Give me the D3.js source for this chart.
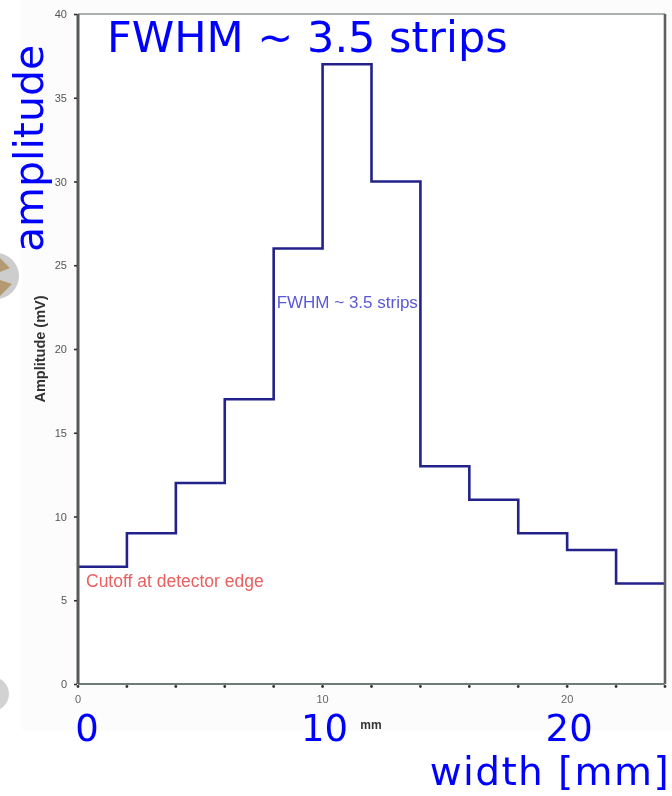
<!DOCTYPE html>
<html>
<head>
<meta charset="utf-8">
<script src="https://cdn.jsdelivr.net/npm/d3@7/dist/d3.min.js"></script>
<style>
  html, body { margin: 0; padding: 0; background: #ffffff; }
  svg { display: block; }
</style>
</head>
<body>
<script>
// Strip edges (mm) and pulse amplitude (mV) read per 2 mm strip
const stripStart = [0, 2, 4, 6, 8, 10, 12, 14, 16, 18, 20, 22];
const amplitude  = [7, 9, 12, 17, 26, 37, 30, 13, 11, 9, 8, 6];
const xEnd = 24;

const yTicks = [0, 5, 10, 15, 20, 25, 30, 35, 40];
const xTickLabels = [0, 10, 20];
const xMinorTicks = d3.range(0, 25, 2);
const bigXLabels = ["0", "10", "20"];
const bigXValues = [0, 10, 20];

const W = 672, H = 796;
const svg = d3.select("body").append("svg").attr("width", W).attr("height", H);

const defs = svg.append("defs");
defs.append("filter").attr("id", "soft")
  .append("feGaussianBlur").attr("stdDeviation", 0.55);

const x = d3.scaleLinear().domain([0, xEnd]).range([78, 665]);
const y = d3.scaleLinear().domain([0, 40]).range([684, 14]);

// faint slide panel behind the plot
svg.append("rect").attr("x", 22).attr("y", 0).attr("width", W - 22).attr("height", 730)
  .attr("fill", "#fcfcfc");
svg.append("rect").attr("x", x(0)).attr("y", y(40)).attr("width", x(xEnd) - x(0)).attr("height", y(0) - y(40))
  .attr("fill", "#ffffff");

// decorative slide buttons at the left edge
const btn = svg.append("g");
btn.append("circle").attr("cx", -4).attr("cy", 276).attr("r", 23).attr("fill", "#cdcdcd");
btn.append("path").attr("d", "M0,258 L10,268 L0,272 Z M0,280 L12,284 L0,296 Z")
  .attr("fill", "#b49a72");
btn.append("circle").attr("cx", -8).attr("cy", 694).attr("r", 17).attr("fill", "#d2d2d2");

const plot = svg.append("g").attr("filter", "url(#soft)");

// step trace
const pts = stripStart.map((s, i) => [s, amplitude[i]]);
pts.push([xEnd, amplitude[amplitude.length - 1]]);
plot.append("path")
  .datum(pts)
  .attr("fill", "none")
  .attr("stroke", "#23238a")
  .attr("stroke-width", 2.6)
  .attr("d", d3.line().x(d => x(d[0])).y(d => y(d[1])).curve(d3.curveStepAfter));

// frame
plot.append("line").attr("x1", x(0)).attr("x2", x(xEnd)).attr("y1", y(40)).attr("y2", y(40))
  .attr("stroke", "#8f9a94").attr("stroke-width", 1.6);
plot.append("line").attr("x1", x(xEnd)).attr("x2", x(xEnd)).attr("y1", y(40)).attr("y2", y(0))
  .attr("stroke", "#5c605e").attr("stroke-width", 2.6);
plot.append("line").attr("x1", x(0)).attr("x2", x(xEnd)).attr("y1", y(0)).attr("y2", y(0))
  .attr("stroke", "#6d7d74").attr("stroke-width", 2);
plot.append("line").attr("x1", x(0)).attr("x2", x(0)).attr("y1", y(40)).attr("y2", y(0))
  .attr("stroke", "#555a57").attr("stroke-width", 3);

// y axis ticks and labels
const yAxis = d3.axisLeft(y).tickValues(yTicks).tickSize(3).tickPadding(7);
const yg = plot.append("g").attr("transform", `translate(${x(0) - 1},0)`).call(yAxis);
yg.select(".domain").remove();
yg.selectAll(".tick line").attr("stroke", "#333").attr("stroke-width", 1.6);
yg.selectAll(".tick text").attr("fill", "#555").attr("font-family", "Liberation Sans, Arial, sans-serif")
  .attr("font-size", 11);

// x axis: dotted minor ticks, labels at 0, 10, 20
const xg = plot.append("g");
xg.selectAll("circle").data(xMinorTicks).join("circle")
  .attr("cx", d => x(d)).attr("cy", y(0) + 2.5).attr("r", 1.4).attr("fill", "#333");
xg.selectAll("text").data(xTickLabels).join("text")
  .attr("x", d => x(d)).attr("y", y(0) + 19)
  .attr("text-anchor", "middle")
  .attr("fill", "#666").attr("font-family", "Liberation Sans, Arial, sans-serif").attr("font-size", 11)
  .text(d => d);

plot.append("text").attr("x", 371).attr("y", 729).attr("text-anchor", "middle")
  .attr("font-family", "Liberation Sans, Arial, sans-serif").attr("font-size", 12).attr("font-weight", "bold")
  .attr("fill", "#333").text("mm");

plot.append("text").attr("transform", `translate(45,349) rotate(-90)`).attr("text-anchor", "middle")
  .attr("font-family", "Liberation Sans, Arial, sans-serif").attr("font-size", 14.5).attr("font-weight", "bold")
  .attr("fill", "#333").text("Amplitude (mV)");

// in-plot annotations
plot.append("text").attr("x", x(8) + 3).attr("y", 308)
  .attr("font-family", "Liberation Sans, Arial, sans-serif").attr("font-size", 17)
  .attr("fill", "#5a5ad8").text("FWHM ~ 3.5 strips");
plot.append("text").attr("x", 86).attr("y", 587)
  .attr("font-family", "Liberation Sans, Arial, sans-serif").attr("font-size", 17.5)
  .attr("fill", "#e86060").text("Cutoff at detector edge");

// large overlay labels
const big = svg.append("g").attr("fill", "#0000ff").attr("font-family", "DejaVu Sans, Verdana, sans-serif");
big.append("text").attr("x", 107).attr("y", 52).attr("font-size", 43).text("FWHM ~ 3.5 strips");
big.append("text").attr("transform", "translate(43,252) rotate(-90)").attr("font-size", 41).text("amplitude");
big.selectAll(".bx").data(bigXValues).join("text").attr("class", "bx")
  .attr("x", (d, i) => x(d) + (i === 0 ? 9 : 2)).attr("y", 741)
  .attr("text-anchor", "middle").attr("font-size", 37)
  .text((d, i) => bigXLabels[i]);
big.append("text").attr("x", 670).attr("y", 785).attr("text-anchor", "end").attr("font-size", 39)
  .attr("letter-spacing", 1.4).text("width [mm]");
</script>
</body>
</html>
